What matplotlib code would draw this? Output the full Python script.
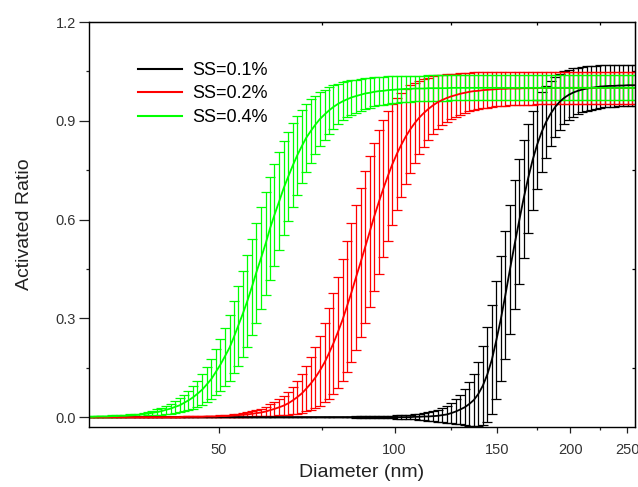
import matplotlib
matplotlib.use("Agg")
import matplotlib.pyplot as plt
from matplotlib.lines import Line2D
from matplotlib.ticker import FixedLocator, NullFormatter, FixedFormatter

plt.rcParams['font.family'] = ['Liberation Sans', 'DejaVu Sans']

# Particle diameter bins (nm), log-spaced
diameter = [
    30.0, 30.5, 31.1, 31.6, 32.2, 32.8, 33.4, 34.0, 34.6, 35.2,
    35.9, 36.5, 37.2, 37.8, 38.5, 39.2, 39.9, 40.6, 41.4, 42.1,
    42.9, 43.6, 44.4, 45.2, 46.0, 46.9, 47.7, 48.6, 49.4, 50.3,
    51.2, 52.2, 53.1, 54.0, 55.0, 56.0, 57.0, 58.0, 59.1, 60.2,
    61.2, 62.3, 63.5, 64.6, 65.8, 67.0, 68.2, 69.4, 70.6, 71.9,
    73.2, 74.5, 75.9, 77.2, 78.6, 80.0, 81.5, 82.9, 84.4, 85.9,
    87.5, 89.1, 90.7, 92.3, 94.0, 95.7, 97.4, 99.1, 100.9, 102.7,
    104.6, 106.5, 108.4, 110.3, 112.3, 114.3, 116.4, 118.5, 120.6, 122.8,
    125.0, 127.3, 129.5, 131.9, 134.3, 136.7, 139.1, 141.6, 144.2, 146.8,
    149.4, 152.1, 154.8, 157.6, 160.5, 163.4, 166.3, 169.3, 172.3, 175.4,
    178.6, 181.8, 185.1, 188.4, 191.8, 195.3, 198.8, 202.4, 206.0, 209.7,
    213.5, 217.3, 221.2, 225.2, 229.3, 233.4, 237.6, 241.9, 246.2, 250.7,
    255.2, 259.8]

# SS=0.1 %
ratio_01 = [
    0, 0, 0, 0, 0, 0, 0, 0, 0, 0,
    0, 0, 0, 0, 0, 0, 0, 0, 0, 0,
    0, 0, 0, 0, 0, 0, 0, 0, 0, 0,
    0, 0, 0, 0, 0, 0, 0, 0, 0, 0,
    0, 0, 0, 0, 0, 0, 0, 0, 0, 0,
    0, 0, 0, 0, 0, 0, 0, 0, 0, 0,
    0, 0, 0, 0, 0, 0, 0, 0, 0, 0,
    0, 0.000, 0.001, 0.001, 0.002, 0.002, 0.003, 0.004, 0.006, 0.008,
    0.012, 0.017, 0.023, 0.030, 0.040, 0.052, 0.070, 0.095, 0.130, 0.175,
    0.234, 0.299, 0.371, 0.448, 0.524, 0.595, 0.663, 0.725, 0.780, 0.827,
    0.866, 0.897, 0.922, 0.942, 0.958, 0.970, 0.979, 0.986, 0.991, 0.995,
    0.998, 1.000, 1.002, 1.004, 1.005, 1.006, 1.006, 1.007, 1.007, 1.008,
    1.008, 1.008]
err_01 = [
    0, 0, 0, 0, 0, 0, 0, 0, 0, 0,
    0, 0, 0, 0, 0, 0, 0, 0, 0, 0,
    0, 0, 0, 0, 0, 0, 0, 0, 0, 0,
    0, 0, 0, 0, 0, 0, 0, 0, 0, 0,
    0, 0, 0, 0, 0, 0, 0, 0, 0, 0,
    0, 0, 0, 0, 0, 0.001, 0.001, 0.001, 0.001, 0.002,
    0.002, 0.002, 0.002, 0.003, 0.003, 0.003, 0.004, 0.004, 0.005, 0.005,
    0.006, 0.007, 0.008, 0.009, 0.011, 0.013, 0.015, 0.018, 0.021, 0.025,
    0.030, 0.038, 0.045, 0.055, 0.066, 0.080, 0.098, 0.120, 0.145, 0.165,
    0.180, 0.190, 0.195, 0.197, 0.195, 0.190, 0.180, 0.165, 0.150, 0.135,
    0.122, 0.110, 0.100, 0.092, 0.085, 0.080, 0.076, 0.073, 0.070, 0.068,
    0.067, 0.066, 0.065, 0.064, 0.064, 0.063, 0.063, 0.063, 0.062, 0.062,
    0.062, 0.062]

# SS=0.2 %
ratio_02 = [
    0, 0, 0, 0, 0, 0, 0, 0, 0, 0,
    0, 0, 0, 0, 0, 0, 0, 0, 0, 0,
    0.000, 0.001, 0.001, 0.001, 0.001, 0.001, 0.002, 0.002, 0.002, 0.003,
    0.003, 0.004, 0.005, 0.006, 0.007, 0.008, 0.010, 0.012, 0.014, 0.017,
    0.021, 0.025, 0.030, 0.035, 0.042, 0.051, 0.061, 0.072, 0.086, 0.102,
    0.120, 0.141, 0.166, 0.193, 0.224, 0.258, 0.296, 0.336, 0.379, 0.424,
    0.470, 0.517, 0.563, 0.609, 0.653, 0.694, 0.732, 0.767, 0.799, 0.827,
    0.853, 0.875, 0.894, 0.910, 0.924, 0.936, 0.947, 0.956, 0.963, 0.969,
    0.974, 0.978, 0.982, 0.985, 0.988, 0.990, 0.991, 0.993, 0.994, 0.995,
    0.996, 0.997, 0.997, 0.998, 0.998, 0.998, 0.999, 0.999, 0.999, 0.999,
    1.000, 1.000, 1.000, 1.000, 1.000, 1.000, 1.000, 1.000, 1.000, 1.000,
    1.000, 1.000, 1.000, 1.000, 1.000, 1.000, 1.000, 1.000, 1.000, 1.000,
    1.000, 1.000]
err_02 = [
    0, 0, 0, 0, 0, 0, 0, 0, 0, 0,
    0, 0, 0, 0, 0, 0, 0, 0, 0, 0,
    0.000, 0.001, 0.001, 0.001, 0.001, 0.001, 0.001, 0.002, 0.002, 0.002,
    0.003, 0.003, 0.004, 0.005, 0.006, 0.007, 0.008, 0.010, 0.012, 0.015,
    0.018, 0.021, 0.025, 0.030, 0.035, 0.042, 0.050, 0.058, 0.068, 0.080,
    0.092, 0.106, 0.121, 0.137, 0.153, 0.169, 0.185, 0.199, 0.211, 0.221,
    0.227, 0.230, 0.229, 0.225, 0.218, 0.208, 0.197, 0.184, 0.171, 0.158,
    0.145, 0.133, 0.122, 0.112, 0.103, 0.095, 0.088, 0.082, 0.077, 0.072,
    0.068, 0.065, 0.063, 0.060, 0.058, 0.057, 0.056, 0.055, 0.054, 0.053,
    0.052, 0.052, 0.051, 0.051, 0.051, 0.050, 0.050, 0.050, 0.050, 0.049,
    0.049, 0.049, 0.049, 0.049, 0.049, 0.049, 0.049, 0.049, 0.049, 0.049,
    0.049, 0.049, 0.049, 0.049, 0.049, 0.049, 0.049, 0.049, 0.049, 0.049,
    0.049, 0.049]

# SS=0.4 %
ratio_04 = [
    0.001, 0.001, 0.002, 0.002, 0.002, 0.003, 0.003, 0.004, 0.004, 0.005,
    0.006, 0.007, 0.009, 0.011, 0.013, 0.015, 0.018, 0.022, 0.026, 0.031,
    0.036, 0.043, 0.051, 0.060, 0.071, 0.084, 0.099, 0.116, 0.136, 0.158,
    0.183, 0.211, 0.243, 0.277, 0.314, 0.353, 0.395, 0.439, 0.483, 0.528,
    0.572, 0.614, 0.656, 0.695, 0.731, 0.765, 0.796, 0.823, 0.848, 0.869,
    0.888, 0.905, 0.919, 0.931, 0.942, 0.951, 0.959, 0.965, 0.971, 0.975,
    0.979, 0.983, 0.985, 0.988, 0.990, 0.991, 0.993, 0.994, 0.995, 0.996,
    0.997, 0.997, 0.998, 0.998, 0.998, 0.999, 0.999, 0.999, 0.999, 0.999,
    1.000, 1.000, 1.000, 1.000, 1.000, 1.000, 1.000, 1.000, 1.000, 1.000,
    1.000, 1.000, 1.000, 1.000, 1.000, 1.000, 1.000, 1.000, 1.000, 1.000,
    1.000, 1.000, 1.000, 1.000, 1.000, 1.000, 1.000, 1.000, 1.000, 1.000,
    1.000, 1.000, 1.000, 1.000, 1.000, 1.000, 1.000, 1.000, 1.000, 1.000,
    1.000, 1.000]
err_04 = [
    0.001, 0.001, 0.001, 0.001, 0.001, 0.002, 0.002, 0.002, 0.003, 0.003,
    0.004, 0.004, 0.005, 0.006, 0.007, 0.009, 0.011, 0.012, 0.015, 0.018,
    0.021, 0.024, 0.029, 0.034, 0.039, 0.046, 0.053, 0.061, 0.070, 0.079,
    0.089, 0.100, 0.110, 0.121, 0.130, 0.139, 0.146, 0.152, 0.156, 0.157,
    0.156, 0.154, 0.149, 0.143, 0.136, 0.128, 0.120, 0.111, 0.103, 0.096,
    0.088, 0.082, 0.076, 0.071, 0.066, 0.062, 0.058, 0.055, 0.053, 0.050,
    0.048, 0.047, 0.045, 0.044, 0.043, 0.042, 0.042, 0.041, 0.041, 0.040,
    0.040, 0.040, 0.039, 0.039, 0.039, 0.039, 0.039, 0.039, 0.039, 0.039,
    0.038, 0.038, 0.038, 0.038, 0.038, 0.038, 0.038, 0.038, 0.038, 0.038,
    0.038, 0.038, 0.038, 0.038, 0.038, 0.038, 0.038, 0.038, 0.038, 0.038,
    0.038, 0.038, 0.038, 0.038, 0.038, 0.038, 0.038, 0.038, 0.038, 0.038,
    0.038, 0.038, 0.038, 0.038, 0.038, 0.038, 0.038, 0.038, 0.038, 0.038,
    0.038, 0.038]

series_names = ["SS=0.1%", "SS=0.2%", "SS=0.4%"]
series_means = [ratio_01, ratio_02, ratio_04]
series_errs = [err_01, err_02, err_04]
series_colors = ["#000000", "#ff0000", "#00ff00"]

x_ticks = [50, 100, 150, 200, 250]
x_minor = [75, 125, 175, 225]
y_ticks = [0.0, 0.3, 0.6, 0.9, 1.2]
y_minor = [0.15, 0.45, 0.75, 1.05]

fig = plt.figure(figsize=(6.38, 4.87), dpi=100)
ax = fig.add_axes([89/638, 60/487, 546/638, 405/487])
for m, e, c in zip(series_means, series_errs, series_colors):
    ax.errorbar(diameter, m, yerr=e, color=c, lw=1.3, elinewidth=0.9,
                capsize=3.5, capthick=0.9)
ax.set_xscale('log')
ax.set_xlim(30, 258)
ax.set_ylim(-0.03, 1.2)
ax.xaxis.set_major_locator(FixedLocator(x_ticks))
ax.xaxis.set_major_formatter(FixedFormatter([str(t) for t in x_ticks]))
ax.xaxis.set_minor_locator(FixedLocator(x_minor))
ax.xaxis.set_minor_formatter(NullFormatter())
ax.set_yticks(y_ticks)
ax.set_yticklabels([f"{t:.1f}" for t in y_ticks])
ax.yaxis.set_minor_locator(FixedLocator(y_minor))
ax.tick_params(which='both', direction='out', top=False, right=False,
               labelsize=10.5, labelcolor='#333333', color='#222222', width=0.9)
ax.tick_params(axis='x', which='major', length=4.2, pad=7.5)
ax.tick_params(axis='y', which='major', length=7, pad=2.5)
ax.tick_params(which='minor', length=2.4)
for s in ax.spines.values():
    s.set_linewidth(1.0)
secx = ax.secondary_xaxis('top')
secx.set_xticks(x_minor)
secx.set_xticklabels([])
secx.xaxis.set_minor_locator(FixedLocator([]))
secx.tick_params(direction='in', length=2.4, width=0.9)
secy = ax.secondary_yaxis('right')
secy.set_yticks(y_minor)
secy.set_yticklabels([])
secy.tick_params(direction='in', length=2.4, width=0.9)
ax.set_xlabel("Diameter (nm)", fontsize=14, color='#222222', labelpad=5)
ax.set_ylabel("Activated Ratio", fontsize=14, color='#222222', labelpad=16)
handles = [Line2D([], [], color=c, lw=1.5) for c in series_colors]
ax.legend(handles, series_names, loc='upper left',
          bbox_to_anchor=(138/638, 1 - 62/487), bbox_transform=fig.transFigure,
          frameon=False, fontsize=13, handlelength=2.45, handletextpad=0.55,
          labelspacing=0.36, borderpad=0, borderaxespad=0)
fig.savefig("out.png", dpi=100)
